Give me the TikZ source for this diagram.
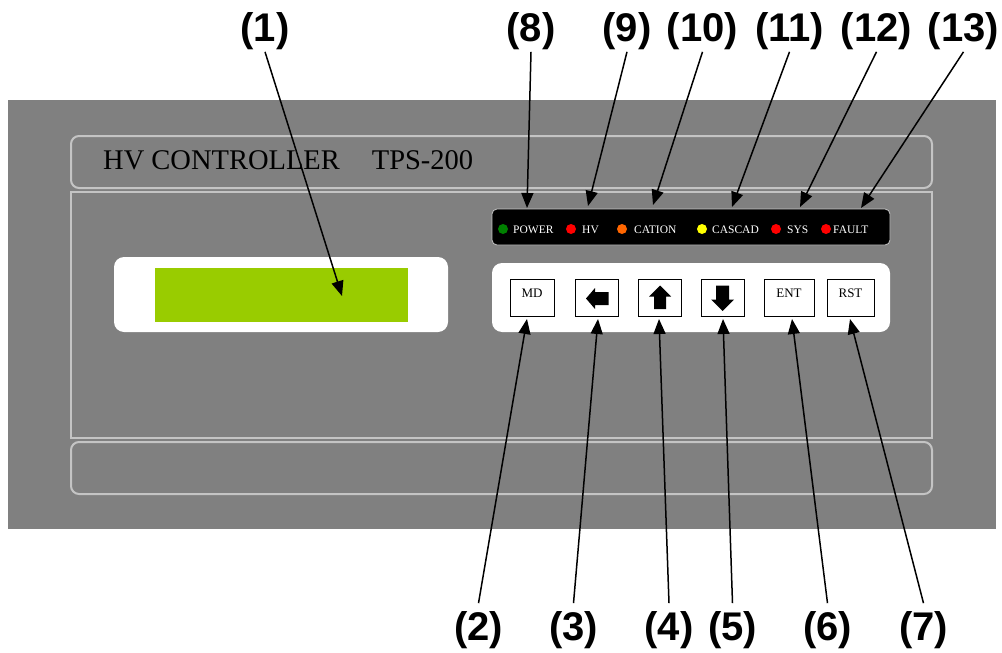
\documentclass[tikz,border=0pt]{standalone}
\usepackage{fontspec}
\setmainfont{Liberation Serif}
\newfontfamily\calloutfont{Liberation Sans}
\usetikzlibrary{arrows.meta}
\definecolor{panelgray}{HTML}{808080}
\definecolor{trimline}{HTML}{C4C4C4}
\definecolor{lcdgreen}{HTML}{99CC00}
\definecolor{ledgreen}{HTML}{008000}
\definecolor{ledred}{HTML}{FF0000}
\definecolor{ledorange}{HTML}{FF6600}
\definecolor{ledyellow}{HTML}{FFFF00}
\begin{document}
\begin{tikzpicture}[x=1pt,y=-1pt,
  trim/.style={draw=trimline,line width=2pt},
  callout/.style={font=\calloutfont\bfseries\fontsize{40}{40}\selectfont,inner sep=0pt},
  pointer/.style={line width=1.5pt,-{Triangle[length=15pt,width=12pt]}},
  keybox/.style={draw=black,fill=white,line width=1pt,minimum height=37pt,inner sep=0pt,
    text height=9pt,text depth=9pt,font=\fontsize{13}{13}\selectfont},
  led/.style={circle,inner sep=0pt,minimum size=10pt},
  ledtext/.style={text=white,anchor=base west,inner sep=0pt,font=\fontsize{11.5}{11.5}\selectfont},
  glyph/.style={fill=black}]
\useasboundingbox (0,0) rectangle (1002,653);

% front panel and its trim frames
\fill[panelgray] (8,100) rectangle (996,529);
\draw[trim,rounded corners=8pt] (71,136) rectangle (932,188);
\draw[trim] (71,192) rectangle (932,438);
\draw[trim,rounded corners=8pt] (71,442) rectangle (932,494);
\node[anchor=base west,inner sep=0pt,font=\fontsize{28.5}{28.5}\selectfont] (title) at (103,169)
  {HV CONTROLLER\hspace{32pt}TPS-200};

% display
\fill[white,rounded corners=10pt] (114,257) rectangle (448,332);
\node[fill=lcdgreen,inner sep=0pt,minimum width=253pt,minimum height=54pt] (lcd) at (281.5,294.7) {};

% indicator strip
\filldraw[fill=black,draw=trimline,line width=0.8pt,rounded corners=5pt] (492,209) rectangle (890,245);
\node[led,fill=ledgreen]  (dpower)  at (503,229) {};
\node[ledtext]            (tpower)  at (513,233.5) {POWER};
\node[led,fill=ledred]    (dhv)     at (571,229) {};
\node[ledtext]            (thv)     at (582,233.5) {HV};
\node[led,fill=ledorange] (dcation) at (622,229) {};
\node[ledtext]            (tcation) at (634,233.5) {CATION};
\node[led,fill=ledyellow] (dcascad) at (702,229) {};
\node[ledtext]            (tcascad) at (712,233.5) {CASCAD};
\node[led,fill=ledred]    (dsys)    at (776,229) {};
\node[ledtext]            (tsys)    at (787,233.5) {SYS};
\node[led,fill=ledred]    (dfault)  at (826,229) {};
\node[ledtext]            (tfault)  at (833,233.5) {FAULT};

% keypad
\fill[white,rounded corners=10pt] (492,263) rectangle (890,332);
\node[keybox,minimum width=44pt] (kmd)    at (532,297.5)   {MD};
\node[keybox,minimum width=43pt] (kleft)  at (596.5,297.5) {};
\node[keybox,minimum width=43pt] (kup)    at (659.5,297.5) {};
\node[keybox,minimum width=43pt] (kdown)  at (722.5,297.5) {};
\node[keybox,minimum width=50pt] (kent)   at (789,297.5)   {ENT};
\node[keybox,minimum width=47pt] (krst)   at (850.5,297.5) {RST};
\fill[glyph,shift={(kleft.center)}] (-10.5,1) -- (-1.5,-9.5) -- (-1.5,-5.5) -- (12,-5.5)
  -- (12,7.5) -- (-1.5,7.5) -- (-1.5,11.5) -- cycle;
\fill[glyph,shift={(kup.center)}] (0.5,-12) -- (11.5,-1) -- (6.5,-1) -- (6.5,11.5)
  -- (-5.5,11.5) -- (-5.5,-1) -- (-10.5,-1) -- cycle;
\fill[glyph,shift={(kdown.center)}] (0,13.5) -- (11.5,2) -- (6.5,2) -- (6.5,-12)
  -- (-6.5,-12) -- (-6.5,2) -- (-11.5,2) -- cycle;

% callout numbers
\node[callout] (c1)  at (265,31)    {(1)};
\node[callout] (c8)  at (531,31)    {(8)};
\node[callout] (c9)  at (627,31)    {(9)};
\node[callout] (c10) at (702.5,31)  {(10)};
\node[callout] (c11) at (789.5,31)  {(11)};
\node[callout] (c12) at (876.5,31)  {(12)};
\node[callout] (c13) at (963.5,31)  {(13)};
\node[callout] (c2)  at (478.5,630) {(2)};
\node[callout] (c3)  at (573.5,630) {(3)};
\node[callout] (c4)  at (669,630)   {(4)};
\node[callout] (c5)  at (732.5,630) {(5)};
\node[callout] (c6)  at (827.5,630) {(6)};
\node[callout] (c7)  at (923.5,630) {(7)};

% arrow targets
\coordinate (p1)  at (342,296);
\coordinate (p8)  at (527,208);
\coordinate (p9)  at (588,206);
\coordinate (p10) at (653,205);
\coordinate (p11) at (732,207);
\coordinate (p12) at (800,207);
\coordinate (p13) at (861,208);
\coordinate (p2)  at (527,319);
\coordinate (p3)  at (598,319);
\coordinate (p4)  at (659,319);
\coordinate (p5)  at (723,319);
\coordinate (p6)  at (792,319);
\coordinate (p7)  at (850,319);

% leader arrows
\foreach \n in {1,8,9,10,11,12,13}
  \draw[pointer] ([yshift=-2pt]c\n.south) -- (p\n);
\foreach \n in {2,3,4,5,6,7}
  \draw[pointer] ([yshift=8pt]c\n.north) -- (p\n);
\end{tikzpicture}
\end{document}
